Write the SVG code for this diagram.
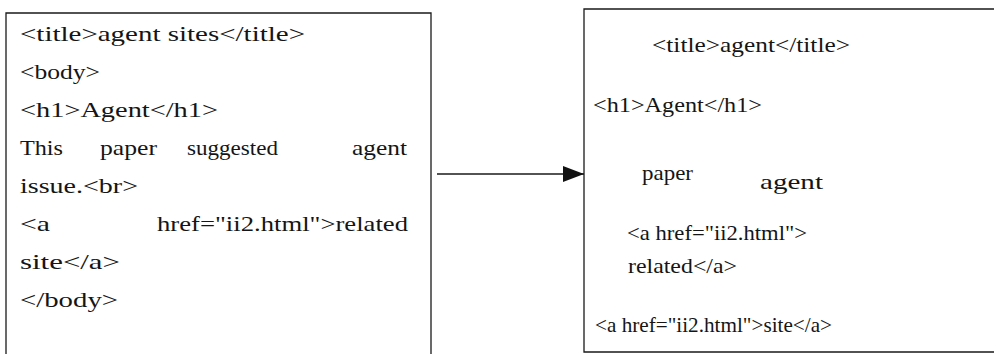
<svg xmlns="http://www.w3.org/2000/svg" width="994" height="354" viewBox="0 0 994 354">
  <defs>
    <style>
      .t { font-family: "Liberation Serif", "Times New Roman", serif; font-size: 21px; fill: #151515; }
      .box { fill: none; stroke: #1a1a1a; stroke-width: 1.3; }
      .conn { fill: none; stroke: #1a1a1a; stroke-width: 1.5; }
    </style>
    <marker id="arrow" markerWidth="22" markerHeight="18" refX="21" refY="9" orient="auto" markerUnits="userSpaceOnUse">
      <path d="M0,1 L21,9 L0,17 Z" fill="#111"/>
    </marker>
  </defs>
  <rect width="994" height="354" fill="#ffffff"/>

  <g id="source">
    <path class="box" d="M6,354 V13 H431 V354"/>
    <text class="t" x="20" y="41" textLength="285" lengthAdjust="spacingAndGlyphs">&lt;title&gt;agent sites&lt;/title&gt;</text>
    <text class="t" x="20" y="79" textLength="80" lengthAdjust="spacingAndGlyphs">&lt;body&gt;</text>
    <text class="t" x="20" y="117" textLength="198" lengthAdjust="spacingAndGlyphs">&lt;h1&gt;Agent&lt;/h1&gt;</text>
    <text class="t" x="20" y="155" textLength="43" lengthAdjust="spacingAndGlyphs">This</text>
    <text class="t" x="100" y="155" textLength="57" lengthAdjust="spacingAndGlyphs">paper</text>
    <text class="t" x="187" y="155" textLength="91" lengthAdjust="spacingAndGlyphs">suggested</text>
    <text class="t" x="352" y="155" textLength="55" lengthAdjust="spacingAndGlyphs">agent</text>
    <text class="t" x="20" y="193" textLength="118" lengthAdjust="spacingAndGlyphs">issue.&lt;br&gt;</text>
    <text class="t" x="20" y="231" textLength="30" lengthAdjust="spacingAndGlyphs">&lt;a</text>
    <text class="t" x="157" y="231" textLength="251" lengthAdjust="spacingAndGlyphs">href="ii2.html"&gt;related</text>
    <text class="t" x="20" y="269" textLength="100" lengthAdjust="spacingAndGlyphs">site&lt;/a&gt;</text>
    <text class="t" x="20" y="307" textLength="98" lengthAdjust="spacingAndGlyphs">&lt;/body&gt;</text>
  </g>

  <g id="result">
    <path class="box" d="M994,9 H584 V352 H994"/>
    <text class="t" x="652" y="52" textLength="198" lengthAdjust="spacingAndGlyphs">&lt;title&gt;agent&lt;/title&gt;</text>
    <text class="t" x="593" y="112" textLength="169" lengthAdjust="spacingAndGlyphs">&lt;h1&gt;Agent&lt;/h1&gt;</text>
    <text class="t" x="642" y="180" textLength="51" lengthAdjust="spacingAndGlyphs">paper</text>
    <text class="t" x="760" y="189" textLength="63" lengthAdjust="spacingAndGlyphs">agent</text>
    <text class="t" x="627" y="240" textLength="180" lengthAdjust="spacingAndGlyphs">&lt;a href="ii2.html"&gt;</text>
    <text class="t" x="628" y="273" textLength="109" lengthAdjust="spacingAndGlyphs">related&lt;/a&gt;</text>
    <text class="t" x="595" y="332" textLength="237" lengthAdjust="spacingAndGlyphs">&lt;a href="ii2.html"&gt;site&lt;/a&gt;</text>
  </g>

  <g id="connectors">
    <line class="conn" x1="437" y1="174" x2="584" y2="174" marker-end="url(#arrow)"/>
  </g>
</svg>
